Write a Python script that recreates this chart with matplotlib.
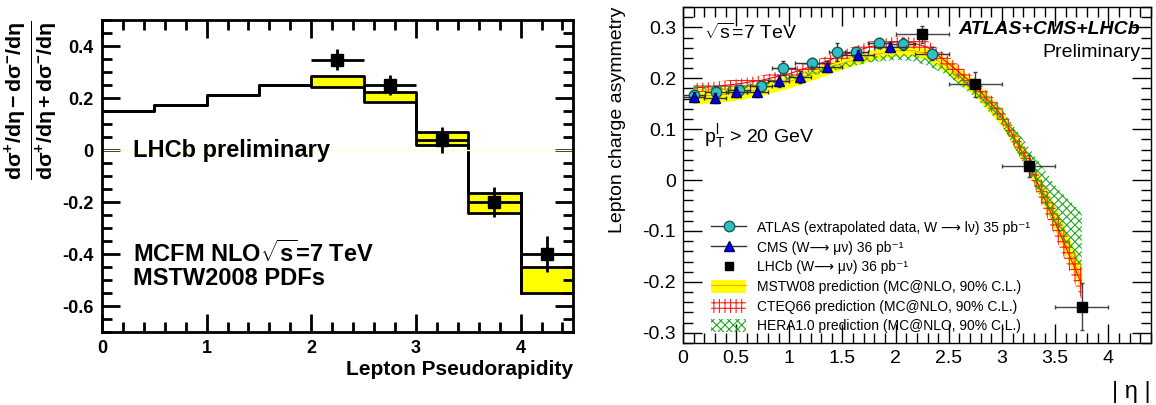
import matplotlib
matplotlib.use('Agg')
import matplotlib.pyplot as plt
import numpy as np
from matplotlib.patches import Patch
from matplotlib.lines import Line2D
from matplotlib.ticker import MultipleLocator

plt.rcParams['font.family'] = ['Liberation Sans', 'DejaVu Sans']
plt.rcParams['mathtext.fontset'] = 'custom'
plt.rcParams['mathtext.rm'] = 'Liberation Sans'
plt.rcParams['mathtext.it'] = 'Liberation Sans:italic'
plt.rcParams['mathtext.bf'] = 'Liberation Sans:bold'
plt.rcParams['hatch.linewidth'] = 0.8

# ---- left panel: LHCb vs MCFM prediction ----
bin_edges = [0, 0.5, 1.0, 1.5, 2.0, 2.5, 3.0, 3.5, 4.0, 4.5]
pred_lo = [0.15, 0.175, 0.21, 0.25, 0.241, 0.186, 0.02, -0.241, -0.549]
pred_hi = [0.15, 0.175, 0.21, 0.25, 0.285, 0.222, 0.07, -0.167, -0.449]

lhcb_eta = [2.25, 2.75, 3.25, 3.75, 4.25]
lhcb_asym = [0.348, 0.25, 0.038, -0.2, -0.4]
lhcb_err = [0.042, 0.04, 0.05, 0.058, 0.068]

# ---- right panel: ATLAS + CMS + LHCb ----
atlas_eta = [0.105, 0.315, 0.525, 0.735, 0.945, 1.21, 1.445, 1.63, 1.845, 2.065, 2.34]
atlas_lo = [0.0, 0.21, 0.42, 0.63, 0.84, 1.05, 1.37, 1.52, 1.74, 1.95, 2.18]
atlas_hi = [0.21, 0.42, 0.63, 0.84, 1.05, 1.37, 1.52, 1.74, 1.95, 2.18, 2.5]
atlas_asym = [0.168, 0.174, 0.177, 0.185, 0.22, 0.23, 0.251, 0.252, 0.269, 0.267, 0.248]
atlas_err = [0.008, 0.01, 0.01, 0.01, 0.014, 0.01, 0.018, 0.01, 0.01, 0.012, 0.013]

cms_eta = [0.1, 0.3, 0.5, 0.7, 0.9, 1.1, 1.35, 1.65, 1.95]
cms_lo = [0.0, 0.2, 0.4, 0.6, 0.8, 1.0, 1.2, 1.5, 1.8]
cms_hi = [0.2, 0.4, 0.6, 0.8, 1.0, 1.2, 1.5, 1.8, 2.1]
cms_asym = [0.163, 0.162, 0.173, 0.174, 0.195, 0.203, 0.223, 0.246, 0.261]
cms_err = [0.01, 0.01, 0.01, 0.01, 0.012, 0.012, 0.01, 0.01, 0.01]

lhcb2_eta = [2.25, 2.75, 3.25, 3.75]
lhcb2_xlo = [2.0, 2.5, 3.0, 3.5]
lhcb2_xhi = [2.5, 3.0, 3.5, 4.0]
lhcb2_asym = [0.286, 0.188, 0.028, -0.249]
lhcb2_err = [0.016, 0.025, 0.021, 0.046]

band_eta = [0.1, 0.3, 0.5, 0.75, 1.0, 1.25, 1.5, 1.75, 2.0, 2.15, 2.3, 2.5, 2.75, 3.0, 3.25, 3.5, 3.75]
mstw_lo = [0.150, 0.152, 0.157, 0.167, 0.181, 0.199, 0.218, 0.234, 0.244, 0.244, 0.236, 0.207, 0.164, 0.106, 0.015, -0.100, -0.222]
mstw_hi = [0.180, 0.181, 0.184, 0.192, 0.205, 0.223, 0.241, 0.255, 0.264, 0.265, 0.260, 0.236, 0.196, 0.138, 0.050, -0.052, -0.170]
cteq_lo = [0.172, 0.175, 0.179, 0.187, 0.199, 0.216, 0.235, 0.251, 0.261, 0.259, 0.248, 0.215, 0.170, 0.110, 0.013, -0.112, -0.235]
cteq_hi = [0.190, 0.193, 0.198, 0.206, 0.219, 0.236, 0.255, 0.272, 0.282, 0.281, 0.274, 0.242, 0.200, 0.143, 0.052, -0.054, -0.175]
hera_lo = [0.178, 0.177, 0.177, 0.185, 0.196, 0.207, 0.219, 0.231, 0.236, 0.234, 0.225, 0.204, 0.162, 0.107, 0.015, -0.090, -0.178]
hera_hi = [0.186, 0.185, 0.185, 0.194, 0.206, 0.218, 0.230, 0.242, 0.248, 0.247, 0.238, 0.219, 0.187, 0.138, 0.065, -0.010, -0.065]

fig = plt.figure(figsize=(11.56, 4.05), dpi=100)

# ================= left =================
ax1 = fig.add_axes([0.0882, 0.1802, 0.4074, 0.7704])
lo_step = pred_lo + [pred_lo[-1]]
hi_step = pred_hi + [pred_hi[-1]]
ax1.fill_between(bin_edges, lo_step, hi_step, step='post', color='#ffff00', lw=0)
ax1.step(bin_edges, lo_step, where='post', color='black', lw=2)
ax1.step(bin_edges, hi_step, where='post', color='black', lw=2)
ax1.plot([4.0, 4.0], [pred_hi[-2], pred_lo[-1]], color='black', lw=2)
ax1.axhline(0, color='#ffffcc', lw=1)
ax1.errorbar(lhcb_eta, lhcb_asym, xerr=0.25, yerr=lhcb_err, fmt='s', color='black',
             ms=8, elinewidth=2, capsize=0)

ax1.set_xlim(0, 4.5)
ax1.set_ylim(-0.7, 0.5)
ax1.set_xticks([0, 1, 2, 3, 4])
ax1.set_xticklabels(['0', '1', '2', '3', '4'])
ax1.xaxis.set_minor_locator(MultipleLocator(0.2))
ax1.set_yticks([-0.6, -0.4, -0.2, 0, 0.2, 0.4])
ax1.set_yticklabels(['-0.6', '-0.4', '-0.2', '0', '0.2', '0.4'])
ax1.yaxis.set_minor_locator(MultipleLocator(0.05))
ax1.tick_params(which='both', direction='in', top=True, right=True, width=2,
                labelsize=13, pad=6)
ax1.tick_params(which='major', length=13)
ax1.tick_params(which='minor', length=7)
for lab in ax1.get_xticklabels() + ax1.get_yticklabels():
    lab.set_fontweight('bold')
for s in ax1.spines.values():
    s.set_linewidth(2)

ax1.set_xlabel('Lepton Pseudorapidity', fontsize=15, fontweight='bold', loc='right', labelpad=2)
ax1.set_ylabel(r'$\mathbf{\frac{d\sigma^{+}/d\eta - d\sigma^{-}/d\eta}{d\sigma^{+}/d\eta + d\sigma^{-}/d\eta}}$',
               fontsize=22, loc='top', labelpad=2)

ax1.text(0.3, 0.0, 'LHCb preliminary', fontsize=17, fontweight='bold', va='center')
ax1.text(0.3, -0.4, r'MCFM NLO$\sqrt{\mathbf{s}}$=7 TeV', fontsize=17, fontweight='bold', va='center')
ax1.text(0.3, -0.495, 'MSTW2008 PDFs', fontsize=17, fontweight='bold', va='center')

# ================= right =================
ax2 = fig.add_axes([0.5908, 0.1531, 0.4048, 0.8296])
ax2.fill_between(band_eta, mstw_lo, mstw_hi, color='#ffff00', lw=0, zorder=1)
ax2.plot(band_eta, [(a + b) / 2 for a, b in zip(mstw_lo, mstw_hi)], color='#ffaa00', lw=0.8, zorder=1)
ax2.fill_between(band_eta, cteq_lo, cteq_hi, facecolor='none', edgecolor='#ff2020', hatch='+++', lw=0, zorder=2)
ax2.plot(band_eta, [(a + b) / 2 for a, b in zip(cteq_lo, cteq_hi)], color='#ff0000', lw=0.8, zorder=2)
ax2.fill_between(band_eta, hera_lo, hera_hi, facecolor='none', edgecolor='#22aa22', hatch='xxxx', lw=0, zorder=3)

xe = [np.array(atlas_eta) - np.array(atlas_lo), np.array(atlas_hi) - np.array(atlas_eta)]
ax2.errorbar(atlas_eta, atlas_asym, xerr=xe, yerr=atlas_err, fmt='o', color='#333333',
             mfc='#2fbfc4', mec='#1a5a5a', ms=7.5, elinewidth=1, capsize=1.5, zorder=5)
xe = [np.array(cms_eta) - np.array(cms_lo), np.array(cms_hi) - np.array(cms_eta)]
ax2.errorbar(cms_eta, cms_asym, xerr=xe, yerr=cms_err, fmt='^', color='#333333',
             mfc='#0000dd', mec='#000066', ms=7, elinewidth=1, capsize=1.5, zorder=6)
xe = [np.array(lhcb2_eta) - np.array(lhcb2_xlo), np.array(lhcb2_xhi) - np.array(lhcb2_eta)]
ax2.errorbar(lhcb2_eta, lhcb2_asym, xerr=xe, yerr=lhcb2_err, fmt='s', color='#444444',
             mfc='black', mec='black', ms=7, elinewidth=1, capsize=1.5, zorder=7)

ax2.set_xlim(0, 4.4)
ax2.set_ylim(-0.32, 0.34)
ax2.set_xticks([0, 0.5, 1, 1.5, 2, 2.5, 3, 3.5, 4])
ax2.set_xticklabels(['0', '0.5', '1', '1.5', '2', '2.5', '3', '3.5', '4'])
ax2.xaxis.set_minor_locator(MultipleLocator(0.1))
ax2.set_yticks([-0.3, -0.2, -0.1, 0, 0.1, 0.2, 0.3])
ax2.set_yticklabels(['-0.3', '-0.2', '-0.1', '0', '0.1', '0.2', '0.3'])
ax2.yaxis.set_minor_locator(MultipleLocator(0.02))
ax2.tick_params(which='both', direction='in', top=True, right=True, width=1,
                labelsize=14, pad=5)
ax2.tick_params(which='major', length=14)
ax2.tick_params(which='minor', length=7)
for s in ax2.spines.values():
    s.set_linewidth(1)

ax2.set_ylabel('Lepton charge asymmetry', fontsize=14, loc='top', labelpad=12)
ax2.set_xlabel('| η |', fontsize=17, loc='right', labelpad=10)

ax2.text(0.2, 0.29, r'$\sqrt{\mathrm{s}}$=7 TeV', fontsize=14, va='center')
ax2.text(0.2, 0.085, r'p$_{\mathrm{T}}^{\mathrm{l}}$ > 20 GeV', fontsize=14, va='center')
ax2.text(4.3, 0.295, 'ATLAS+CMS+LHCb', fontsize=14, fontweight='bold', style='italic', ha='right', va='center')
ax2.text(4.3, 0.25, 'Preliminary', fontsize=14, ha='right', va='center')

h_atlas = Line2D([], [], marker='o', color='#333333', mfc='#2fbfc4', mec='#1a5a5a', ms=7.5, lw=1)
h_cms = Line2D([], [], marker='^', color='#333333', mfc='#0000dd', mec='#000066', ms=7, lw=1)
h_lhcb = Line2D([], [], marker='s', color='black', ms=6, lw=0)
h_mstw = (Patch(facecolor='#ffff00', lw=0), Line2D([], [], color='#ffaa00', lw=0.8))
h_cteq = Patch(facecolor='none', edgecolor='#ff2020', hatch='+++', lw=0)
h_hera = Patch(facecolor='none', edgecolor='#22aa22', hatch='xxxx', lw=0)
ax2.legend([h_atlas, h_cms, h_lhcb, h_mstw, h_cteq, h_hera],
           ['ATLAS (extrapolated data, W ⟶ lν) 35 pb⁻¹',
            'CMS (W⟶ μν) 36 pb⁻¹',
            'LHCb (W⟶ μν) 36 pb⁻¹',
            'MSTW08 prediction (MC@NLO, 90% C.L.)',
            'CTEQ66 prediction (MC@NLO, 90% C.L.)',
            'HERA1.0 prediction (MC@NLO, 90% C.L.)'],
           loc='lower left', bbox_to_anchor=(0.04, 0.0), frameon=False, fontsize=10,
           handlelength=2.5, handleheight=1.1, labelspacing=0.38, handletextpad=0.8,
           borderpad=0.2)

fig.savefig('out.png', dpi=100)
